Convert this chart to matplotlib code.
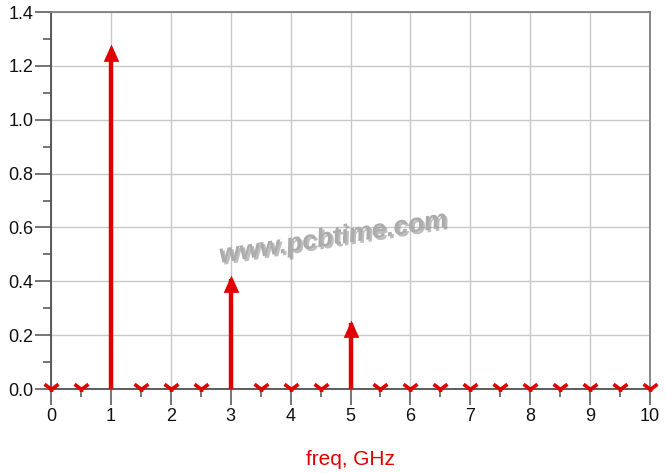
import matplotlib
matplotlib.use("Agg")
import matplotlib.pyplot as plt
from matplotlib.path import Path
import matplotlib.patheffects as pe
import numpy as np

# Data
harm_freq = [1, 3, 5]
harm_amp = [1.28, 0.425, 0.257]
zero_freq = [0, 0.5, 1.5, 2, 2.5, 3.5, 4, 4.5, 5.5, 6, 6.5, 7, 7.5, 8, 8.5, 9, 9.5, 10]
zero_amp = [0.0] * len(zero_freq)
xticks = [0, 1, 2, 3, 4, 5, 6, 7, 8, 9, 10]
yticks = [0.0, 0.2, 0.4, 0.6, 0.8, 1.0, 1.2, 1.4]

plt.rcParams['font.family'] = ['Liberation Sans', 'DejaVu Sans']

fig = plt.figure(figsize=(6.66, 4.73), dpi=100)
ax = fig.add_axes([51/666, 1-389/473, (650-51)/666, (389-12)/473])

ax.set_xlim(0, 10)
ax.set_ylim(0, 1.4)
ax.set_xticks(xticks)
ax.set_xticks(np.arange(0, 10.01, 0.5), minor=True)
ax.set_yticks(yticks)
ax.set_yticks(np.arange(0, 1.401, 0.1), minor=True)
ax.set_xticklabels([str(t) for t in xticks])
ax.set_yticklabels([f"{t:.1f}" for t in yticks])
ax.tick_params(which='major', direction='out', length=11.5, width=1.1, color='#505050',
               labelsize=13, labelcolor='#111111')
ax.tick_params(which='minor', direction='out', length=5.8, width=1.1, color='#505050')
ax.tick_params(axis='y', which='major', pad=1)
ax.tick_params(axis='x', which='major', pad=2)

ax.grid(True, which='major', color='#c8c8c8', lw=1.0)
ax.set_axisbelow(True)
for s in ['left', 'bottom']:
    ax.spines[s].set_color('#505050')
    ax.spines[s].set_linewidth(1.3)
for s in ['top', 'right']:
    ax.spines[s].set_color('#808080')
    ax.spines[s].set_linewidth(1.3)

red = '#e00000'

# Arrows (harmonics): shaft + head marker with tip at the value
ax.vlines(harm_freq, 0, [a * 0.96 for a in harm_amp], colors=red, lw=3.2, zorder=5)
head = Path([(0, 0), (-0.45, -1.0), (0.45, -1.0), (0, 0)],
            [Path.MOVETO, Path.LINETO, Path.LINETO, Path.CLOSEPOLY])
ax.plot(harm_freq, harm_amp, linestyle='none', marker=head, markersize=25,
        color=red, markeredgewidth=0, zorder=6, clip_on=False)

# Zero markers
vmark = Path([(-1, 0.75), (0, 0), (1, 0.75), (0, 0), (0, -0.35)],
             [Path.MOVETO, Path.LINETO, Path.LINETO, Path.MOVETO, Path.LINETO])
ax.plot(zero_freq, zero_amp, linestyle='none', marker=vmark, markersize=10,
        markeredgewidth=2.6, color=red, markerfacecolor='none', clip_on=False, zorder=6)

ax.set_xlabel('freq, GHz', color=red, fontsize=15, labelpad=18)

# Watermark
ax.text(4.71, 0.561, 'www.pcbtime.com', fontsize=19, fontweight='bold', fontstyle='italic',
        color='#acacac', rotation=9, ha='center', va='center', rotation_mode='anchor',
        path_effects=[pe.withSimplePatchShadow(offset=(1.5, -1.5), shadow_rgbFace='#707070', alpha=0.45)],
        zorder=4)

fig.savefig('out.png', dpi=100)
